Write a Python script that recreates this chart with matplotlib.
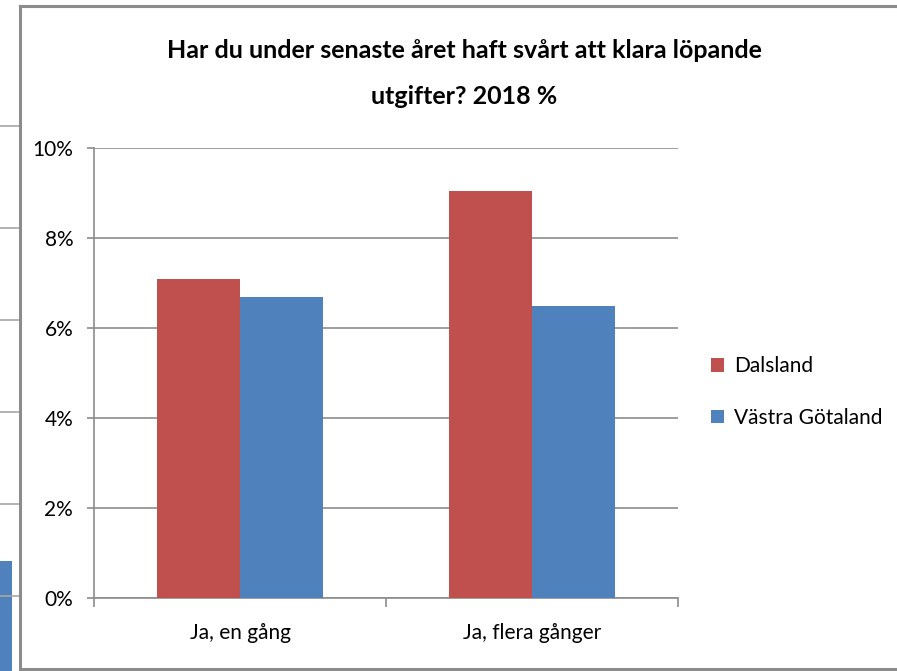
import matplotlib
matplotlib.use("Agg")
import matplotlib.pyplot as plt
from matplotlib.lines import Line2D
from matplotlib.patches import Rectangle
import numpy as np

categories = ["Ja, en gång", "Ja, flera gånger"]
series_names = ["Dalsland", "Västra Götaland"]
dalsland = [7.1, 9.05]
vastra_gotaland = [6.7, 6.5]
yticks = [0, 2, 4, 6, 8, 10]
ytick_labels = ["0%", "2%", "4%", "6%", "8%", "10%"]
title_lines = ["Har du under senaste året haft svårt att klara löpande", "utgifter? 2018 %"]

RED = "#C0504D"
BLUE = "#4F81BD"
GRID = "#8C8C8C"
FONT = ["Lato", "DejaVu Sans"]
plt.rcParams["font.family"] = FONT

W, H = 897, 671
fig = plt.figure(figsize=(W / 100, H / 100), dpi=100)
fig.patch.set_facecolor("white")

def fx(x):
    return x / W

def fy(y):
    return 1 - y / H

# background artefacts (neighbouring chart)
for yy in [126, 228, 320, 412, 504, 596]:
    fig.add_artist(Line2D([0, fx(19)], [fy(yy), fy(yy)], color="#A6A6A6", lw=1.2))
fig.add_artist(Rectangle((0, 0), fx(12), fy(561), transform=fig.transFigure,
                         facecolor=BLUE, edgecolor="none"))
# chart frame
fig.add_artist(Line2D([fx(19.5), fx(19.5)], [fy(669), fy(6)], color="#8C8C8C", lw=2.2))
fig.add_artist(Line2D([fx(19.5), 1], [fy(6), fy(6)], color="#8C8C8C", lw=2.2))
fig.add_artist(Line2D([fx(19.5), 1], [fy(669), fy(669)], color="#8C8C8C", lw=2.2))

ax = fig.add_axes([fx(94), fy(598), fx(678) - fx(94), fy(148) - fy(598)])
x = np.arange(len(categories))
bw = 0.285
ax.bar(x - bw / 2, dalsland, bw, color=RED, label=series_names[0], zorder=3)
ax.bar(x + bw / 2, vastra_gotaland, bw, color=BLUE, label=series_names[1], zorder=3)

ax.set_xlim(-0.5, len(categories) - 0.5)
ax.set_ylim(0, 10)
ax.set_yticks(yticks)
ax.set_yticklabels(ytick_labels)
ax.yaxis.grid(True, color=GRID, lw=1.2, zorder=0)
ax.set_axisbelow(True)
for s in ["top", "right"]:
    ax.spines[s].set_visible(False)
ax.spines["left"].set_color(GRID)
ax.spines["bottom"].set_color(GRID)
ax.spines["left"].set_linewidth(1.2)
ax.spines["bottom"].set_linewidth(1.2)
ax.tick_params(axis="y", length=5, width=1.2, color=GRID, pad=10, labelsize=15, labelcolor="#000000")

# category boundary ticks on x-axis
ax.set_xticks([-0.5, 0.5, 1.5])
ax.set_xticklabels([])
ax.tick_params(axis="x", length=6.5, width=1.2, color=GRID, direction="out")
for i, c in enumerate(categories):
    ax.text(i, -0.078, c, transform=ax.get_xaxis_transform(), ha="center", va="center",
            fontsize=15, color="#000000")

fig.text(fx(464), fy(50), title_lines[0], ha="center", va="center", fontsize=18,
         fontweight="bold", color="#000000")
fig.text(fx(464), fy(97), title_lines[1], ha="center", va="center", fontsize=18,
         fontweight="bold", color="#000000")

leg = fig.legend(loc="center left", bbox_to_anchor=(fx(703), fy(392)), frameon=False,
                 fontsize=15, handlelength=0.6, handleheight=0.6, handletextpad=0.5,
                 labelspacing=1.5, borderaxespad=0)

fig.savefig("out.png", dpi=100, facecolor="white")
